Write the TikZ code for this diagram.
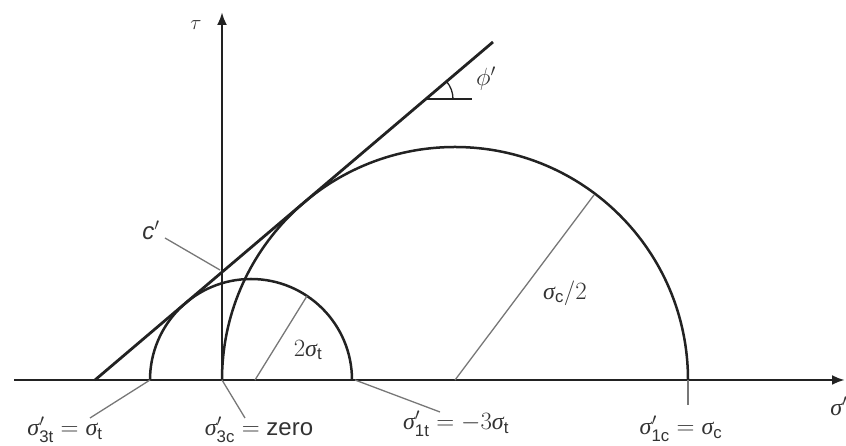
\documentclass[tikz,border=0pt]{standalone}
\usepackage{amsmath}
\usepackage{fontspec}
\setmainfont{Liberation Sans}
\newfontfamily\grkit[Scale=1.0]{Liberation Serif}
\newcommand{\sg}{\mbox{\grkit\itshape σ}}
\usetikzlibrary{arrows.meta}
\definecolor{txtgray}{HTML}{333333}
\definecolor{linegray}{HTML}{222222}
\definecolor{leadgray}{HTML}{777777}
\begin{document}
\begin{tikzpicture}[x=1pt, y=1pt, >={Latex[length=13pt,width=10pt]}, line width=2.8pt, linegray,
  every node/.style={text=txtgray, font=\fontsize{24}{28}\selectfont, inner sep=0pt},
  leader/.style={leadgray, line width=1.3pt}]
\useasboundingbox (0,0) rectangle (846,446);
% 坐标轴
\draw[->] (14,66) -- (845,66);
\draw[->] (222,66) -- (222,434);
\node (tau) at (196,421) {\fontsize{20}{24}\selectfont$\tau$};
\node[anchor=base west] (sigax) at (829,30) {$\sg'$};

% 莫尔圆: 拉伸 (圆心 251, 半径 101), 压缩 (圆心 455, 半径 233)
\draw[line width=2.5pt] (352,66) arc[start angle=0, end angle=180, radius=101];
\draw[line width=2.5pt] (688,66) arc[start angle=0, end angle=180, radius=233];

% 强度包络线, 倾角约 40.3
\draw (95,66) -- (493,404);
\draw[line width=1.3pt] (426,347) -- (472,347);
\draw[line width=1.3pt] (453,347) arc[start angle=0, end angle=40.3, radius=27];
\node (phi) at (486,367) {\fontsize{26}{30}\selectfont$\phi'$};

% 半径线
\coordinate (tcen) at (255,66);
\coordinate (trim) at (307,150);
\draw[leader] (tcen) -- (trim);
\node (trad) at (308,96) {$2\sg_{\text{t}}$};
\coordinate (ccen) at (455,66);
\coordinate (crim) at (594,251);
\draw[leader] (ccen) -- (crim);
\node (crad) at (565,153) {$\sg_{\text{c}}/2$};

% 黏聚力 c'
\coordinate (cpt) at (220,176);
\node (clab) at (151,216) {\textit{c}$'$};
\draw[leader] (cpt) -- (165,208);

% 横轴上的标注
\coordinate (p3t) at (150,66);
\coordinate (q3t) at (90,28);
\draw[leader] (p3t) -- (q3t);
\node[anchor=base] (l3t) at (65,10) {$\sg'_{\text{3t}} = \sg_{\text{t}}$};

\coordinate (p3c) at (222,66);
\coordinate (q3c) at (245,28);
\draw[leader] (p3c) -- (q3c);
\node[anchor=base] (l3c) at (259,10) {$\sg'_{\text{3c}} =$ zero};

\coordinate (p1t) at (355,66);
\coordinate (q1t) at (440,34);
\draw[leader] (p1t) -- (q1t);
\node[anchor=base] (l1t) at (456,16) {$\sg'_{\text{1t}} = -3\sg_{\text{t}}$};

\coordinate (p1c) at (688,66);
\coordinate (q1c) at (688,41);
\draw[leader] (p1c) -- (q1c);
\node[anchor=base] (l1c) at (681,11) {$\sg'_{\text{1c}} = \sg_{\text{c}}$};
\end{tikzpicture}
\end{document}
